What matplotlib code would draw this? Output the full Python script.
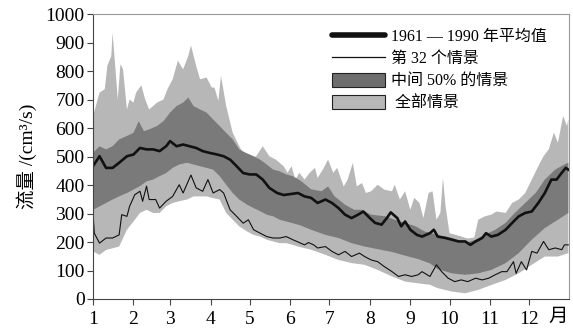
import numpy as np
import matplotlib
matplotlib.use('Agg')
import matplotlib.pyplot as plt
from matplotlib.lines import Line2D
from matplotlib.patches import Patch

plt.rcParams['font.family'] = ['Liberation Serif', 'Noto Sans CJK SC']  # 数字用衬线体，中文回退到 CJK
plt.rcParams['axes.unicode_minus'] = False

# 逐日流量，x 为一年中的第几天
mean_day = [1, 6, 11, 16, 21, 27, 32, 37, 42, 47, 52, 57, 60, 65, 70, 75, 80, 85, 90, 96,
            101, 106, 111, 116, 121, 126, 131, 136, 142, 147, 152, 158, 163, 168, 173, 179, 184, 189, 194, 199,
            204, 208, 213, 217, 222, 226, 229, 234, 237, 240, 244, 249, 253, 259, 262, 265, 271, 276, 281, 286,
            290, 294, 299, 302, 306, 311, 317, 322, 327, 332, 337, 342, 347, 352, 356, 360, 363, 365]
mean_val = [466, 501, 460, 460, 478, 501, 507, 530, 525, 525, 519, 536, 554, 536, 542, 536, 530, 519, 513, 507,
            501, 489, 466, 442, 437, 437, 419, 390, 372, 365, 368, 372, 360, 355, 337, 349, 337, 319, 296, 284,
            296, 307, 284, 267, 261, 284, 304, 284, 255, 272, 243, 225, 219, 231, 243, 219, 214, 208, 202, 202,
            190, 202, 214, 231, 219, 225, 243, 267, 290, 302, 307, 337, 372, 419, 419, 443, 460, 454]

s32_day = [1, 2, 6, 11, 16, 21, 23, 27, 29, 33, 37, 39, 42, 44, 49, 52, 57, 62, 67, 70,
           76, 80, 85, 89, 93, 98, 101, 106, 111, 116, 120, 124, 129, 134, 139, 144, 149, 154, 158, 163,
           166, 170, 173, 179, 184, 189, 194, 199, 205, 209, 214, 219, 224, 230, 235, 240, 245, 250, 253, 259,
           264, 268, 273, 278, 283, 288, 294, 299, 304, 309, 314, 318, 323, 325, 329, 333, 337, 341, 346, 350,
           355, 360, 362, 365]
s32_val = [302, 231, 196, 214, 214, 225, 296, 290, 325, 366, 378, 343, 396, 349, 349, 319, 343, 360, 401, 372,
           435, 390, 378, 419, 372, 384, 372, 313, 290, 266, 278, 243, 231, 219, 214, 214, 219, 208, 200, 190,
           198, 190, 179, 184, 167, 155, 167, 149, 161, 149, 137, 131, 114, 96, 79, 85, 79, 85, 96, 79,
           120, 96, 73, 61, 67, 61, 73, 67, 73, 85, 96, 96, 131, 90, 131, 102, 167, 161, 202, 173,
           179, 173, 190, 190]

# 中间 50% 情景的上下界
mid_hi_day = [1, 6, 11, 16, 21, 27, 32, 36, 40, 44, 50, 55, 60, 65, 70, 74, 78, 83, 88, 93,
              98, 103, 108, 113, 118, 124, 129, 134, 139, 144, 149, 154, 160, 168, 176, 181, 186, 194, 201, 207,
              214, 225, 232, 240, 248, 255, 265, 276, 286, 294, 301, 309, 317, 324, 332, 340, 347, 355, 362, 365]
mid_hi_val = [513, 536, 525, 536, 560, 572, 583, 624, 589, 595, 607, 624, 654, 677, 689, 707, 677, 665, 654, 630,
              607, 583, 560, 525, 513, 501, 489, 472, 454, 448, 437, 431, 415, 385, 378, 395, 360, 331, 313, 313,
              296, 290, 278, 267, 255, 237, 225, 214, 196, 208, 225, 243, 267, 302, 337, 372, 419, 454, 472, 478]
mid_lo_day = [1, 6, 11, 16, 21, 27, 32, 37, 42, 47, 52, 57, 62, 67, 73, 78, 83, 88, 93, 98,
              103, 108, 113, 119, 124, 129, 134, 139, 144, 149, 154, 160, 168, 179, 189, 199, 209, 219, 230, 240,
              250, 259, 265, 276, 286, 296, 306, 317, 327, 337, 347, 357, 365]
mid_lo_val = [313, 325, 337, 349, 360, 372, 384, 396, 413, 419, 431, 442, 460, 472, 478, 472, 466, 460, 454, 431,
              401, 372, 349, 331, 319, 308, 296, 290, 278, 272, 266, 258, 243, 225, 214, 196, 184, 175, 165, 152,
              140, 125, 105, 90, 85, 90, 102, 126, 161, 208, 249, 278, 302]

# 全部情景的上下界
all_hi_day = [1, 6, 10, 12, 15, 16, 18, 20, 22, 24, 27, 29, 32, 34, 38, 41, 44, 50, 55, 58,
              62, 66, 70, 74, 76, 80, 83, 88, 92, 94, 97, 99, 103, 108, 113, 119, 126, 131, 136, 141,
              147, 150, 153, 156, 159, 163, 167, 171, 173, 177, 181, 185, 188, 193, 196, 200, 203, 207, 210, 214,
              219, 224, 230, 232, 236, 240, 244, 247, 251, 254, 258, 261, 264, 267, 269, 271, 274, 281, 288, 293,
              296, 301, 306, 310, 317, 322, 327, 332, 337, 342, 346, 350, 354, 357, 361, 364, 365]
all_hi_val = [640, 724, 736, 818, 853, 935, 818, 700, 824, 806, 665, 700, 689, 724, 750, 700, 665, 689, 700, 736,
              771, 836, 806, 853, 890, 818, 771, 777, 742, 742, 695, 783, 677, 583, 536, 489, 501, 536, 501, 489,
              466, 443, 466, 419, 443, 419, 443, 460, 425, 454, 489, 443, 460, 395, 419, 478, 395, 407, 372, 378,
              401, 384, 378, 401, 349, 378, 313, 355, 337, 284, 372, 378, 278, 302, 425, 325, 231, 222, 212, 216,
              278, 290, 296, 307, 302, 337, 349, 372, 419, 466, 501, 525, 584, 548, 642, 607, 630]
all_lo_day = [1, 6, 11, 16, 21, 27, 32, 37, 42, 47, 52, 57, 62, 67, 73, 78, 83, 88, 93, 98,
              103, 108, 113, 119, 124, 129, 134, 139, 144, 149, 154, 158, 168, 179, 189, 199, 209, 219, 230, 240,
              250, 259, 265, 276, 286, 296, 306, 317, 327, 337, 347, 357, 365]
all_lo_val = [167, 155, 172, 178, 184, 243, 272, 302, 313, 302, 302, 325, 337, 343, 349, 360, 360, 360, 354, 349,
              302, 278, 255, 237, 225, 219, 208, 202, 196, 196, 190, 184, 173, 155, 137, 126, 120, 102, 79, 61,
              55, 50, 38, 26, 20, 32, 49, 67, 90, 120, 149, 149, 161]

month_start = [1, 32, 60, 91, 121, 152, 182, 213, 244, 274, 305, 335]
month_label = ['1', '2', '3', '4', '5', '6', '7', '8', '9', '10', '11', '12']

light = '#b7b7b7'
dark = '#7a7a7a'

fig = plt.figure(figsize=(5.73, 3.32), dpi=100)
ax = fig.add_axes([0.1623, 0.0994, 0.8307, 0.8584])

# 先画全部情景，再画中间 50%
ax.fill(np.concatenate([all_hi_day, all_lo_day[::-1]]),
        np.concatenate([all_hi_val, all_lo_val[::-1]]), color=light, lw=0)
ax.fill(np.concatenate([mid_hi_day, mid_lo_day[::-1]]),
        np.concatenate([mid_hi_val, mid_lo_val[::-1]]), color=dark, lw=0)
ax.plot(s32_day, s32_val, color='#111111', lw=0.8)
ax.plot(mean_day, mean_val, color='#111111', lw=1.9)

ax.set_xlim(1, 365.5)
ax.set_ylim(0, 1000)
ax.set_xticks(month_start)
ax.set_xticklabels(month_label)
ax.set_yticks(np.arange(0, 1001, 100))
ax.tick_params(axis='both', labelsize=14, length=4, width=0.8, color='#444444', direction='out')
ax.tick_params(axis='x', pad=5)
ax.tick_params(axis='y', pad=2)
ax.text(357, -0.035, '月', transform=ax.get_xaxis_transform(), ha='center', va='top', fontsize=14)
ax.set_ylabel('流量 /(cm³/s)', fontsize=14, labelpad=6)

for s in ['left', 'bottom']:
    ax.spines[s].set_color('#444444')
for s in ['top', 'right']:
    ax.spines[s].set_color('#999999')

handles = [Line2D([], [], color='#111111', lw=4, solid_capstyle='round'),
           Line2D([], [], color='#111111', lw=0.9),
           Patch(facecolor='#6e6e6e', edgecolor='#222222', lw=0.8),
           Patch(facecolor=light, edgecolor='#222222', lw=0.8)]
labels = ['1961 — 1990 年平均值', '第 32 个情景', '中间 50% 的情景', ' 全部情景']
ax.legend(handles, labels, loc='upper left', bbox_to_anchor=(0.475, 0.995), frameon=False,
          fontsize=11.5, handlelength=3.3, handleheight=1.0, labelspacing=0.35, handletextpad=0.4,
          borderpad=0.3)

fig.savefig('out.png', dpi=100)
